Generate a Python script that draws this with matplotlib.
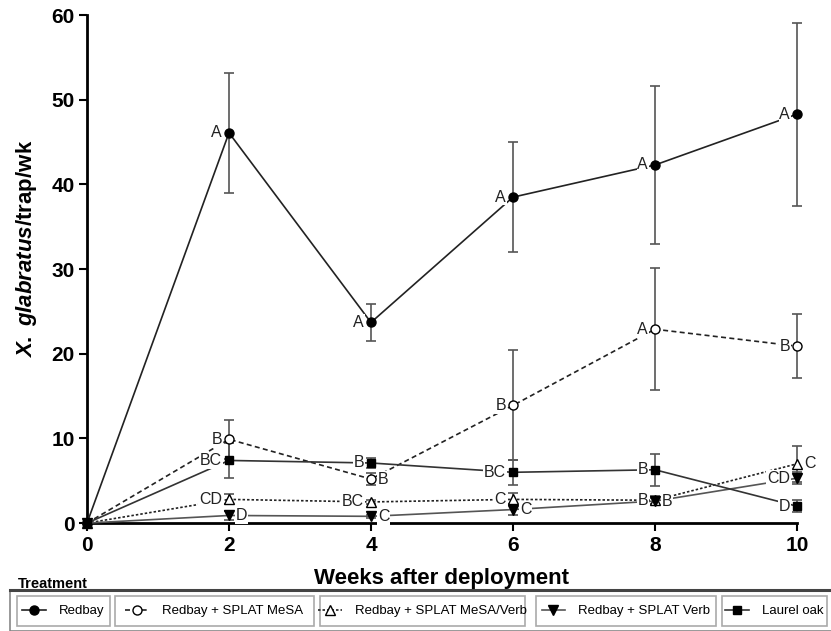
import matplotlib
matplotlib.use("Agg")
import matplotlib.pyplot as plt
from matplotlib.lines import Line2D
from matplotlib.patches import Rectangle

plt.rcParams['font.family'] = ['Liberation Sans', 'DejaVu Sans']
plt.rcParams['mathtext.fontset'] = 'custom'
plt.rcParams['mathtext.it'] = 'Liberation Sans:italic:bold'
plt.rcParams['mathtext.rm'] = 'Liberation Sans:bold'

weeks = [0, 2, 4, 6, 8, 10]
names = ["Redbay", "Redbay + SPLAT MeSA", "Redbay + SPLAT MeSA/Verb",
         "Redbay + SPLAT Verb", "Laurel oak"]

redbay = [0, 46.1, 23.7, 38.5, 42.3, 48.3]
redbay_err = [0, 7.1, 2.2, 6.5, 9.3, 10.8]
mesa = [0, 9.9, 5.2, 13.9, 22.9, 20.9]
mesa_err = [0, 2.3, 0.7, 6.5, 7.2, 3.8]
mesa_verb = [0, 2.8, 2.5, 2.8, 2.7, 7.0]
mesa_verb_err = [0, 0.6, 0.2, 0.7, 0.5, 2.1]
verb = [0, 0.9, 0.8, 1.6, 2.6, 5.3]
verb_err = [0, 0.5, 0.2, 0.6, 0.4, 0.7]
laurel = [0, 7.4, 7.1, 6.0, 6.3, 2.0]
laurel_err = [0, 2.1, 0.6, 1.5, 1.9, 0.7]

redbay_letters = ["", "A", "A", "A", "A", "A"]
mesa_letters = ["", "B", "B", "B", "A", "B"]
mesa_verb_letters = ["", "CD", "BC", "C", "B", "C"]
verb_letters = ["", "D", "C", "C", "B", "CD"]
laurel_letters = ["", "BC", "B", "BC", "B", "D"]

series = [
    (redbay, redbay_err, redbay_letters, dict(color="#222222", ls="-", marker="o", mfc="black", mec="black"),
     ["l"] * 6),
    (mesa, mesa_err, mesa_letters, dict(color="#222222", ls=(0, (3, 2)), marker="o", mfc="white", mec="black"),
     ["l", "l", "r", "l", "l", "l"]),
    (mesa_verb, mesa_verb_err, mesa_verb_letters, dict(color="#222222", ls=(0, (1.5, 1.2)), marker="^", mfc="white", mec="black"),
     ["l", "l", "l", "l", "l", "r"]),
    (verb, verb_err, verb_letters, dict(color="#555555", ls="-", marker="v", mfc="black", mec="black"),
     ["r", "r", "r", "r", "r", "l"]),
    (laurel, laurel_err, laurel_letters, dict(color="#333333", ls="-", marker="s", mfc="black", mec="black"),
     ["l"] * 6),
]

fig = plt.figure(figsize=(8.31, 6.31), dpi=100)
ax = fig.add_axes([0.1047, 0.171, 0.8543, 0.805])

handles = []
for vals, errs, letters, st, sides in series:
    ax.errorbar(weeks, vals, yerr=errs, fmt="none", ecolor="#555555",
                elinewidth=1.2, capsize=3.3, capthick=1.2, clip_on=False, zorder=2)
    h, = ax.plot(weeks, vals, color=st["color"], ls=st["ls"], lw=1.2,
                 marker=st["marker"], mfc=st["mfc"], mec=st["mec"],
                 ms=6.5 if st["marker"] != "s" else 6, mew=1.0, clip_on=False, zorder=3)
    handles.append(h)
    for x, y, lab, side in zip(weeks, vals, letters, sides):
        if not lab:
            continue
        dx = -5 if side == "l" else 5
        ax.annotate(lab, (x, y), xytext=(dx, 0), textcoords="offset points",
                    ha="right" if side == "l" else "left", va="center",
                    fontsize=11.5, color="#222222", zorder=4,
                    bbox=dict(boxstyle="square,pad=0.05", fc="white", ec="none"))

ax.set_xlim(0, 10)
ax.set_ylim(0, 60)
ax.set_xticks(weeks)
ax.set_yticks(range(0, 61, 10))
for s in ["top", "right"]:
    ax.spines[s].set_visible(False)
for s in ["left", "bottom"]:
    ax.spines[s].set_linewidth(2)
ax.tick_params(direction="out", length=6, width=1.5, pad=3)
for lab in ax.get_xticklabels() + ax.get_yticklabels():
    lab.set_fontweight("bold")
    lab.set_fontsize(15)

ax.set_xlabel("Weeks after deployment", fontsize=16, fontweight="bold", labelpad=10)
ax.set_ylabel(r"$X.$ $glabratus$/trap/wk", fontsize=16, fontweight="bold")
ax.yaxis.set_label_coords(-0.068, 0.54)

# legend area
W, H = 831.0, 631.0
fig.text(18 / W, 1 - 584 / H, "Treatment", fontsize=10.5, fontweight="bold",
         va="center", ha="left")
fig.patches.append(Rectangle((10 / W, 0), 825 / W, (H - 590) / H, transform=fig.transFigure,
                             fill=False, ec="#888888", lw=1.2))
fig.lines.append(Line2D([10 / W, 1], [1 - 590 / H] * 2, transform=fig.transFigure,
                        color="#444444", lw=2.2))
boxes = [(17, 110), (115, 314), (320, 525), (536, 716), (722, 827)]
for h, name, (x0, x1) in zip(handles, names, boxes):
    fig.patches.append(Rectangle((x0 / W, 1 - 626 / H), (x1 - x0) / W, 30 / H,
                                 transform=fig.transFigure, fill=False, ec="#aaaaaa", lw=1.2))
    fig.legend(handles=[h], labels=[name], loc="center",
               bbox_to_anchor=((x0 + x1) / 2 / W, 1 - 611 / H), frameon=False,
               fontsize=9.5, handlelength=1.8, handletextpad=1.0, borderpad=0)

fig.savefig("out.png", dpi=100)
